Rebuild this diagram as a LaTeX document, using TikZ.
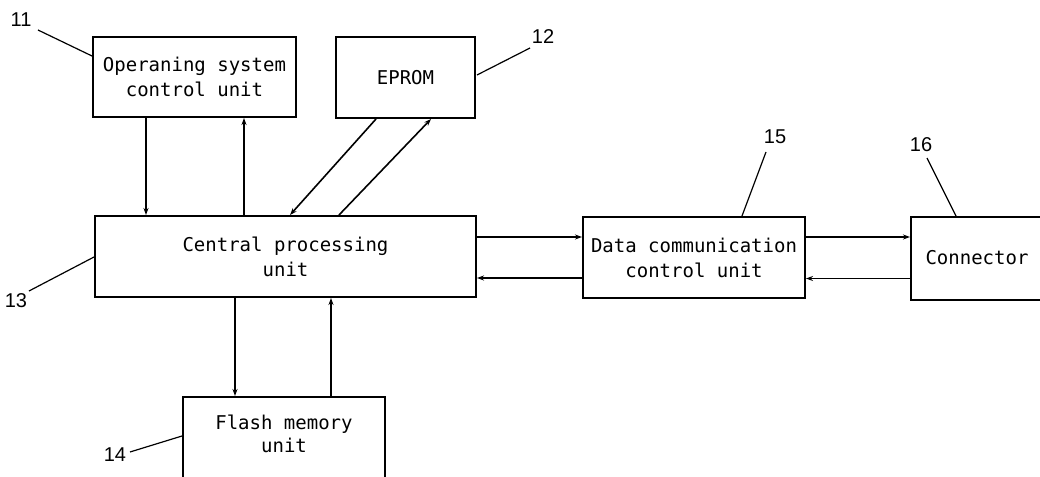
\documentclass[tikz,border=0pt]{standalone}
\usepackage{fontspec}
\newfontfamily\boxfont{DejaVu Sans Mono}
\newfontfamily\numfont{Liberation Sans}
\usetikzlibrary{arrows.meta,calc}
\begin{document}
\begin{tikzpicture}[x=1pt,y=-1pt,
  blk/.style={draw,line width=2pt,inner sep=0pt,align=center,
    font=\boxfont\fontsize{19}{25}\selectfont},
  arr/.style={line width=1.6pt,-{Stealth[length=7pt,width=5pt]}},
  lead/.style={line width=1.2pt},
  num/.style={font=\numfont\fontsize{20}{22}\selectfont,inner sep=0pt}]
\path[use as bounding box,clip] (0,0) rectangle (1040,476);
\fill[white] (0,0) rectangle (1040,476);
% boxes
\node[blk,minimum width=203pt,minimum height=80pt] (osu) at (194.5,77) {Operaning system\\control unit};
\node[blk,minimum width=139pt,minimum height=81pt] (eprom) at (405.5,77.5) {EPROM};
\node[blk,minimum width=381pt,minimum height=81pt] (cpu) at (285.5,256.5) {Central processing\\unit};
\node[blk,minimum width=202pt,minimum height=90pt] (flash) at (284,442) {};
\node[font=\boxfont\fontsize{19}{23}\selectfont,align=center,inner sep=0pt] (flashtxt) at (284,434) {Flash memory\\unit};
\node[blk,minimum width=222pt,minimum height=81pt] (dcu) at (694,257.5) {Data communication\\control unit};
\node[blk,minimum width=131pt,minimum height=83pt] (con) at (976.5,258.5) {};
\node[font=\boxfont\fontsize{19}{25}\selectfont,inner sep=0pt] (contxt) at (977,258) {Connector};
% connectors
\draw[arr] ([xshift=54pt]osu.south west) -- ([xshift=54pt]osu.south west |- cpu.north);
\draw[arr] ([xshift=152pt]osu.south west |- cpu.north) -- ([xshift=152pt]osu.south west);
\draw[arr] ([xshift=41pt]eprom.south west) -- ([xshift=196pt]cpu.north west);
\draw[arr] ([xshift=245pt]cpu.north west) -- ([xshift=96pt]eprom.south west);
\draw[arr] ([yshift=19.5pt]cpu.east) -- ([yshift=19.5pt]cpu.east -| dcu.west);
\draw[arr] ([yshift=-20.5pt]dcu.west) -- ([yshift=-20.5pt]dcu.west -| cpu.east);
\draw[arr] ([yshift=20.5pt]dcu.east) -- ([yshift=20.5pt]dcu.east -| con.west);
\draw[arr] ([yshift=-20pt]con.west) -- ([yshift=-20pt]con.west -| dcu.east);
\draw[arr] ([xshift=53pt]flash.north west |- cpu.south) -- ([xshift=53pt]flash.north west);
\draw[arr] ([xshift=149pt]flash.north west) -- ([xshift=149pt]flash.north west |- cpu.south);
% reference numerals
\node[num] (n11) at (21,20) {11};
\coordinate (e11) at ($(osu.north west)+(0,20)$);
\draw[lead] (38,30) -- (e11);
\node[num] (n12) at (543,37) {12};
\coordinate (e12) at ($(eprom.north east)+(1,39)$);
\draw[lead] (530,48) -- (e12);
\node[num] (n13) at (16,301) {13};
\coordinate (e13) at ($(cpu.north west)+(0,42)$);
\draw[lead] (29,291) -- (e13);
\node[num] (n14) at (115,455) {14};
\coordinate (e14) at ($(flash.north west)+(0,40)$);
\draw[lead] (130,452) -- (e14);
\node[num] (n15) at (775,137) {15};
\coordinate (e15) at ($(dcu.north west)+(160,0)$);
\draw[lead] (766,152) -- (e15);
\node[num] (n16) at (921,145) {16};
\coordinate (e16) at ($(con.north west)+(46,0)$);
\draw[lead] (927,158) -- (e16);
\end{tikzpicture}
\end{document}
